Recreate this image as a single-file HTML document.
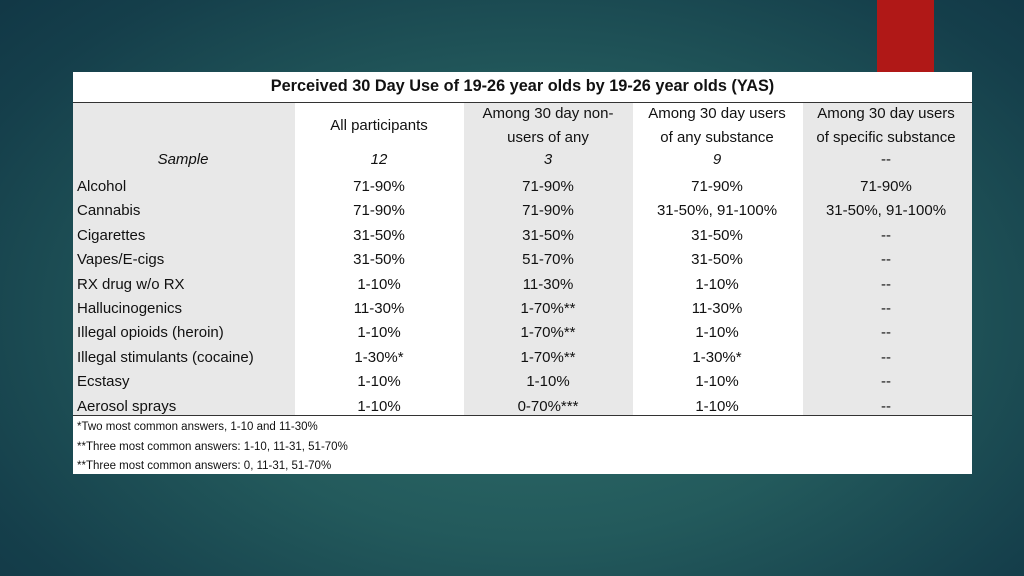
<!DOCTYPE html>
<html><head><meta charset="utf-8"><style>
html,body{margin:0;padding:0}
body{width:1024px;height:576px;overflow:hidden;position:relative;font-family:"Liberation Sans",sans-serif;
background:radial-gradient(ellipse 75% 85% at 52% 55%,#2f6e6a 0%,#235a5c 45%,#153f4b 80%,#103544 100%);}
#red{position:absolute;left:877px;top:0;width:57px;height:72px;background:#b01817}
#tbl{position:absolute;left:73px;top:72px;width:899px;height:402px;background:#fff}
.col{position:absolute;top:31px;height:312px;background:#e8e8e8}
.t{position:absolute;font-size:15px;color:#111;white-space:nowrap;line-height:18px}
.c{transform:translateX(-50%)}
.fn{position:absolute;left:4px;font-size:11.5px;color:#111;white-space:nowrap}
</style></head><body>
<div id="red"></div>
<div id="tbl">
 <div style="position:absolute;left:0;right:0;top:0;height:30px;border-bottom:1px solid #333">
  <div style="position:absolute;left:0;right:0;top:5px;text-align:center;font-weight:bold;font-size:16.3px;color:#111">Perceived 30 Day Use of 19-26 year olds by 19-26 year olds (YAS)</div>
 </div>
 <div class="col" style="left:0;width:222px"></div>
 <div class="col" style="left:391px;width:169px"></div>
 <div class="col" style="left:730px;width:169px"></div>
 <div style="position:absolute;left:0;right:0;top:343px;border-top:1px solid #333"></div>
 <div class="fn" style="top:349px">*Two most common answers, 1-10 and 11-30%</div>
 <div class="fn" style="top:369px">**Three most common answers: 1-10, 11-31, 51-70%</div>
 <div class="fn" style="top:388px">**Three most common answers: 0, 11-31, 51-70%</div>
</div>
<script>
const headers=[["All participants"],["Among 30 day non-","users of any"],["Among 30 day users","of any substance"],["Among 30 day users","of specific substance"]];
const sample=["12","3","9","--"];
const labels=["Alcohol","Cannabis","Cigarettes","Vapes/E-cigs","RX drug w/o RX","Hallucinogenics","Illegal opioids (heroin)","Illegal stimulants (cocaine)","Ecstasy","Aerosol sprays"];
const colAll=["71-90%","71-90%","31-50%","31-50%","1-10%","11-30%","1-10%","1-30%*","1-10%","1-10%"];
const colNon=["71-90%","71-90%","31-50%","51-70%","11-30%","1-70%**","1-70%**","1-70%**","1-10%","0-70%***"];
const colUsers=["71-90%","31-50%, 91-100%","31-50%","31-50%","1-10%","11-30%","1-10%","1-30%*","1-10%","1-10%"];
const colSpec=["71-90%","31-50%, 91-100%","--","--","--","--","--","--","--","--"];
const tbl=document.getElementById('tbl');
const centers=[306,475,644,813];
function txt(s,x,y,center,italic,name){
 const d=document.createElement('div');
 d.className='t'+(center?' c':'');
 d.style.left=x+'px';d.style.top=(y-9)+'px';
 if(italic)d.style.fontStyle='italic';
 d.textContent=s;
 
 
 tbl.appendChild(d);
}
headers.forEach((h,i)=>{
 if(h.length===1)txt(h[0],centers[i],54,true,false,'column-header');
 else h.forEach((l,j)=>txt(l,centers[i],42+j*24,true,false,'column-header'));
});
txt("Sample",110,88,true,true,'sample-label');
sample.forEach((s,i)=>txt(s,centers[i],88,true,i<3,'sample-size'));
const cols=[colAll,colNon,colUsers,colSpec];
labels.forEach((l,r)=>{
 const y=113+r*24.4;
 txt(l,4,y+2,false,false,'row-label');
 cols.forEach((c,i)=>txt(c[r],centers[i],y+2,true,false,'cell-value'));
});
</script>
</body></html>
